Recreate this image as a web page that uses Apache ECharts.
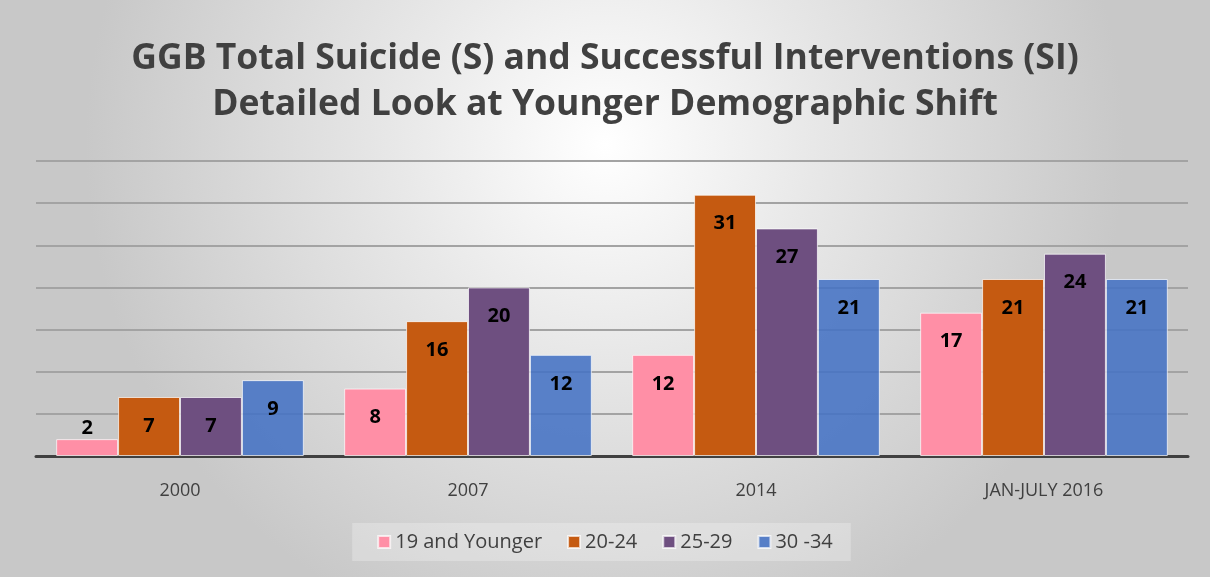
<!DOCTYPE html>
<html><head><meta charset="utf-8">
<script src="https://cdn.jsdelivr.net/npm/echarts@6/dist/echarts.min.js"></script>
<style>html,body{margin:0;padding:0;}#c{width:1210px;height:577px;}</style>
</head><body><div id="c"></div>
<script>
const categories = ['2000', '2007', '2014', 'JAN-JULY 2016'];
const seriesNames = ['19 and Younger', '20-24', '25-29', '30 -34'];
const s19 = [2, 8, 12, 17];
const s2024 = [7, 16, 31, 21];
const s2529 = [7, 20, 27, 24];
const s3034 = [9, 12, 21, 21];
const colors = ['#FF8FA6', '#C55A11', '#6E4F80', 'rgba(68,114,196,0.88)'];
const titleLines = ['GGB Total Suicide (S) and Successful Interventions (SI)', 'Detailed Look at Younger Demographic Shift'];

const chart = echarts.init(document.getElementById('c'), null, {renderer: 'canvas'});
const allData = [s19, s2024, s2529, s3034];
const series = allData.map((arr, i) => ({
  name: seriesNames[i],
  type: 'bar',
  barGap: '0%',
  barCategoryGap: '14%',
  itemStyle: {color: colors[i], borderColor: 'rgba(255,255,255,0.7)', borderWidth: 1},
  label: {show: true, position: 'insideTop', distance: 19, color: '#000', fontWeight: 'bold', fontSize: 20, fontFamily: 'Open Sans'},
  data: arr.map(v => v < 4 ? {value: v, label: {position: 'top', distance: 1}} : v)
}));

chart.setOption({
  backgroundColor: {type: 'radial', x: 0.5, y: 0.25, r: 0.9, colorStops: [{offset: 0, color: '#ffffff'}, {offset: 0.4, color: '#e8e8e8'}, {offset: 1, color: '#c8c8c8'}]},
  color: colors,
  title: {
    text: titleLines.join('\n'),
    left: 'center', top: 31,
    textStyle: {fontFamily: 'Open Sans', fontWeight: 'bold', fontSize: 35.5, color: '#404040', lineHeight: 46}
  },
  legend: {
    bottom: 16, left: 'center',
    itemWidth: 12, itemHeight: 12, itemGap: 25,
    icon: 'rect',
    padding: [9, 18, 9, 25],
    backgroundColor: 'rgba(255,255,255,0.25)',
    textStyle: {fontFamily: 'Open Sans', fontSize: 20, color: '#404040'},
    data: seriesNames
  },
  grid: {left: 36, right: 22, top: 161, bottom: 121},
  xAxis: {
    type: 'category', data: categories,
    axisLine: {lineStyle: {color: '#404040', width: 3}},
    axisTick: {show: false},
    axisLabel: {fontFamily: 'Open Sans', fontSize: 18, color: '#404040', margin: 26}
  },
  yAxis: {
    type: 'value', min: 0, max: 35, interval: 5,
    axisLabel: {show: false},
    axisLine: {show: false}, axisTick: {show: false},
    splitLine: {lineStyle: {color: '#a3a3a3', width: 2}}
  },
  series: series
});
</script>
</body></html>
